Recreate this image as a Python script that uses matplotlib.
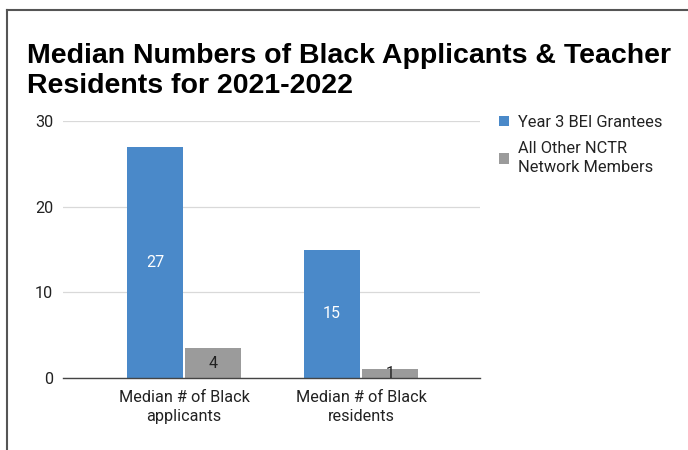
import matplotlib.pyplot as plt
from matplotlib.lines import Line2D
import numpy as np

categories = ['Median # of Black\napplicants', 'Median # of Black\nresidents']
series_names = ['Year 3 BEI Grantees', 'All Other NCTR\nNetwork Members']
bei_values = [27, 15]
other_values = [3.5, 1]
y_ticks = [0, 10, 20, 30]

blue = '#4a89c9'
gray = '#9b9b9b'

plt.rcParams['font.family'] = ['Roboto', 'DejaVu Sans']

fig = plt.figure(figsize=(6.88, 4.5), dpi=100)
ax = fig.add_axes([63 / 688, 1 - 378 / 450, (480 - 63) / 688, (378 - 121) / 450])

x = np.arange(len(categories))
w = 0.316
gap = 0.006
b1 = ax.bar(x - w / 2 - gap, bei_values, w, color=blue, label=series_names[0])
b2 = ax.bar(x + w / 2 + gap, other_values, w, color=gray, label=series_names[1])

# value labels sit in the middle of each bar
for rect, v in zip(b1, bei_values):
    ax.text(rect.get_x() + rect.get_width() / 2, v / 2, f'{v:.0f}',
            ha='center', va='center', color='white', fontsize=11.5)
for rect, v in zip(b2, other_values):
    ax.text(rect.get_x() + rect.get_width() / 2, v / 2, f'{v:.0f}',
            ha='center', va='center', color='#222222', fontsize=11.5)

ax.set_xlim(-0.684, 1.672)
ax.set_ylim(0, 30)
ax.set_yticks(y_ticks)
ax.set_xticks(x)
ax.set_xticklabels(categories, fontsize=11.7, color='#222222', linespacing=1.3)
ax.tick_params(axis='y', labelsize=11.7, labelcolor='#222222', length=0, pad=7)
ax.tick_params(axis='x', length=0, pad=9)
ax.grid(axis='y', color='#d9d9d9', linewidth=0.9)
ax.set_axisbelow(True)
for s in ['top', 'right', 'left']:
    ax.spines[s].set_visible(False)
ax.spines['bottom'].set_color('#444444')
ax.spines['bottom'].set_linewidth(1.0)

leg = fig.legend(loc='upper left', bbox_to_anchor=(484 / 688, 1 - 100 / 450),
                 frameon=False, fontsize=11.8, handlelength=0.65, handleheight=0.65,
                 handletextpad=0.55, labelspacing=0.7, labelcolor='#222222')
for t in leg.get_texts():
    t.set_linespacing(1.35)

fig.text(27 / 688, 1 - 43 / 450,
         'Median Numbers of Black Applicants & Teacher\nResidents for 2021-2022',
         fontsize=20.5, fontweight='heavy', family='Liberation Sans',
         ha='left', va='top', linespacing=1.22)

# frame lines along the left and top edges
fig.add_artist(Line2D([6.5 / 688, 6.5 / 688], [0, 1 - 9.5 / 450],
                      transform=fig.transFigure, color='#555555', linewidth=1.5))
fig.add_artist(Line2D([6.5 / 688, 1], [1 - 9.5 / 450, 1 - 9.5 / 450],
                      transform=fig.transFigure, color='#555555', linewidth=1.5))

fig.savefig('out.png', dpi=100)
